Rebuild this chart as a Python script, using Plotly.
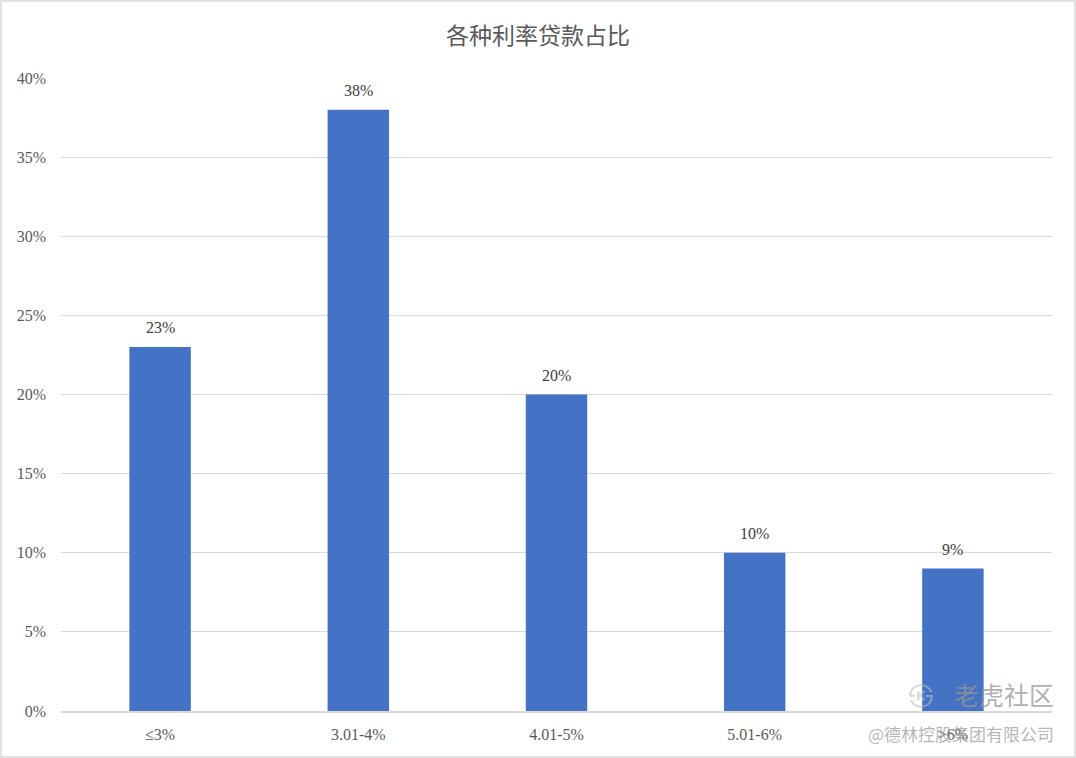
import plotly.graph_objects as go

categories = ["≤3%", "3.01-4%", "4.01-5%", "5.01-6%", ">6%"]
values = [0.23, 0.38, 0.20, 0.10, 0.09]
value_labels = ["23%", "38%", "20%", "10%", "9%"]
title_text = "各种利率贷款占比"

W, H = 1076, 758
L, R, T, B = 61, 24, 78, 47
pw, ph = W - L - R, H - T - B

serif = "Palatino Linotype, Book Antiqua, Liberation Serif, DejaVu Serif, serif"

fig = go.Figure(go.Bar(
    x=categories, y=values,
    marker=dict(color="#4472C4", line=dict(width=0)),
    width=0.31,
    hoverinfo="x+y",
))

def px_x(p):
    return (p - L) / pw

def px_y(p):
    return (H - B - p) / ph

label_annotations = [
    dict(x=c, y=v, xref="x", yref="y", text=t, showarrow=False,
         yanchor="bottom", yshift=9,
         font=dict(family=serif, size=16, color="#404040"))
    for c, v, t in zip(categories, values, value_labels)
]

fig.update_layout(
    width=W, height=H,
    margin=dict(l=L, r=R, t=T, b=B),
    paper_bgcolor="white", plot_bgcolor="white",
    showlegend=False,
    title=dict(text=title_text, x=0.5, xanchor="center", y=1 - 36 / H, yanchor="middle",
               font=dict(family="Noto Sans CJK SC, serif", size=23, color="#595959")),
    xaxis=dict(showgrid=False, showline=True, linecolor="#d9d9d9", linewidth=1.5,
               ticks="", tickfont=dict(family=serif, size=16, color="#595959"),
               ticklabelstandoff=8),
    yaxis=dict(range=[0, 0.40], dtick=0.05, tickformat=".0%", showgrid=True,
               gridcolor="#d9d9d9", gridwidth=1.2, zeroline=False, showline=False,
               ticks="", tickfont=dict(family=serif, size=16, color="#595959"),
               ticklabelstandoff=14),
    shapes=[dict(type="rect", xref="paper", yref="paper",
                 x0=px_x(1), x1=px_x(W - 1), y0=px_y(1), y1=px_y(H - 1),
                 line=dict(color="#d9d9d9", width=1.5), fillcolor="rgba(0,0,0,0)", layer="below")],
    annotations=label_annotations + [
        dict(text="老虎社区", xref="paper", yref="paper", x=px_x(1056), y=px_y(694),
             xanchor="right", yanchor="middle", showarrow=False,
             font=dict(family="Noto Sans CJK SC", size=25, color="rgba(150,150,150,0.75)")),
        dict(text="㉿", xref="paper", yref="paper", x=px_x(921), y=px_y(694),
             xanchor="center", yanchor="middle", showarrow=False,
             font=dict(family="DejaVu Sans", size=28, color="rgba(190,190,190,0.6)")),
        dict(text="@德林控股集团有限公司", xref="paper", yref="paper", x=px_x(1056), y=px_y(733),
             xanchor="right", yanchor="middle", showarrow=False,
             font=dict(family="Noto Sans CJK SC", size=17, color="rgba(150,150,150,0.7)")),
    ],
)

fig.write_html("out.html", config={"displayModeBar": False},
               post_script="document.body.style.margin='0';document.body.style.overflow='hidden';")
